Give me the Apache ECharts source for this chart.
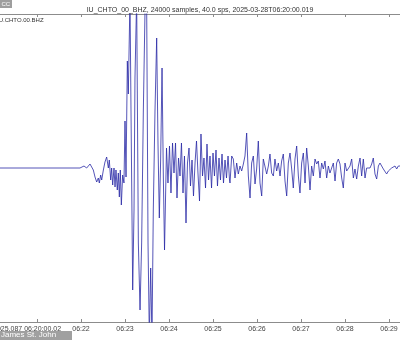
<!DOCTYPE html>
<html>
<head>
<meta charset="utf-8">
<script src="https://cdn.jsdelivr.net/npm/echarts@6/dist/echarts.min.js"></script>
<style>html,body{margin:0;padding:0;background:#fff}#c{width:400px;height:340px}</style>
</head>
<body>
<div id="c"></div>
<script>
// Seconds after 2025-03-28 06:20:00
const times = [
0, 118.6, 124.1, 127.7, 132.3, 134.5, 136.8, 139.1, 141.4, 143.6,
145.0, 146.8, 148.2, 150.5, 152.7, 155.0, 157.3, 158.6, 160.5, 161.8,
163.2, 165.0, 166.4, 167.7, 169.5, 170.9, 172.3, 173.6, 175.0, 176.8,
178.6, 180.0, 181.4, 183.2, 184.5, 186.8, 188.2, 190.5, 192.3, 193.6,
195.9, 198.2, 200.5, 202.7, 205.0, 207.7, 209.5, 211.4, 213.2, 215.0,
216.8, 218.6, 220.9, 223.2, 225.0, 226.8, 228.6, 230.5, 232.3,
233.9, 236.6, 238.6, 240.7, 242.7, 244.8, 246.8, 248.9, 250.9, 253.0,
255.0, 257.0, 259.1, 261.1, 263.2, 265.2, 267.3, 269.3, 271.4, 273.4,
275.5, 277.5, 279.5, 281.6, 283.6, 285.7, 287.7, 289.8, 291.8, 293.9,
295.9, 298.0, 300.0, 302.0, 304.1, 306.1, 308.2, 310.2, 312.3, 314.3,
316.4, 318.4, 320.5, 322.5,
323.2, 325.5, 327.7, 330.0, 332.3, 334.5, 336.8, 339.1, 341.4, 343.6,
345.9, 348.2, 350.5, 352.7, 355.0, 357.3, 359.5, 361.8, 364.1, 366.4,
368.6, 370.9, 373.2, 375.5, 377.7, 380.0, 382.3, 384.5, 386.8, 389.1,
391.4, 393.6, 395.9, 398.2, 400.5, 402.7, 405.0, 407.3, 409.5, 411.8,
414.1, 416.4, 418.6, 420.9, 423.2, 425.5, 427.7, 430.0, 432.3, 434.5,
436.8, 439.1, 441.4, 443.6, 445.9, 448.2, 450.5, 452.7, 455.0, 457.3,
459.5, 461.8, 464.1, 466.4, 468.6, 470.9, 473.2, 475.5, 477.7, 480.0,
482.3, 484.5, 486.8, 489.1, 491.4, 493.6, 495.9, 498.2, 500.5, 502.7,
505.0, 507.3, 509.5, 511.8, 514.1, 516.4, 518.6, 520.9, 523.2, 525.5,
527.7, 530.0, 532.3, 534.5, 536.8, 539.1, 541.4, 543.6, 545.9, 548.2,
550.5, 552.7, 555.0, 565.0, 580.0, 600.0
];
// Ground velocity (arbitrary counts, thousands)
const counts = [
0, 0, 2, 0, 4, 5, -2, -9, -14, -10,
-15, -7, -12, -2, 6, 11, 0, 8, -12, 0,
-17, 0, -19, -2, -22, -5, -29, -2, -37, -7,
-15, 47, -9, 107, 74, 170, 57, -122, -42, 90,
170, -75, -142, -75, 57, 175, 170, -75, -170, -100,
-170, -42, 57, 130, 24, -50, 8, 100, -9,
-82, 20, -15, 22, -25, 25, -5, 25, -30, 10,
-8, 25, -25, 12, -55, 5, 20, -18, 8, -28,
5, 27, -5, -33, 34, -8, 10, -20, 24, -12,
12, -20, 15, -8, 18, -18, 10, -12, 14, -15,
8, -10, 12, -12,
-15, 12, 9, -10, 5, -6, 2, -3, 4, 12,
35, -8, -30, 5, 12, -16, -1, 27, -15, -28,
9, 10, -6, 2, 14, -5, -8, 9, -3, 5,
-8, 7, 14, -13, -28, 5, 15, -1, -20, 9,
22, -8, -25, 5, 15, -15, 20, 2, -22, 2,
-8, 9, 4, 7, -10, 5, -1, 7, -10, 2,
-5, 0, 5, -13, 5, 9, 4, -10, -20, 5,
-3, -3, 2, 9, -10, -1, -11, 2, 10, -8,
9, -10, 0, -1, 0, 4, 10, -6, -11, 2,
5, 2, -1, -3, -6, -3, -3, 0, -1, 2,
-1, 2, 0, 2, -1, 0
];
const tickLabels = ['2025.087 06:20:00.02', '', '06:22', '06:23', '06:24', '06:25', '06:26', '06:27', '06:28', '06:29', ''];
const titleText = 'IU_CHTO_00_BHZ, 24000 samples, 40.0 sps, 2025-03-28T06:20:00.019';
const traceLabel = 'IU.CHTO.00.BHZ';

if (times.length !== counts.length) throw new Error('length mismatch ' + times.length + ' ' + counts.length);
const data = times.map((t, i) => [t, counts[i]]);

const chart = echarts.init(document.getElementById('c'), null, {renderer: 'canvas'});
const axisCol = '#8c8c8c';
const font = 'Liberation Sans, Arial, sans-serif';
chart.setOption({
  animation: false,
  title: {
    text: titleText, left: 'center', top: 2,
    textStyle: {fontSize: 7, fontWeight: 'normal', color: '#333', fontFamily: font}
  },
  grid: {left: -7, right: -33, top: 14, bottom: 18, outerBoundsMode: 'none', containLabel: false},
  xAxis: [{
    type: 'value', min: 0, max: 600, interval: 60, position: 'bottom',
    axisLine: {onZero: false, lineStyle: {color: axisCol, width: 1}},
    axisTick: {inside: true, length: 3, lineStyle: {color: axisCol}},
    splitLine: {show: false},
    axisLabel: {
      formatter: (v) => tickLabels[Math.round(v / 60)] || '',
      fontSize: 7, fontFamily: font, color: '#444', margin: 4,
      showMinLabel: true, showMaxLabel: false, alignMinLabel: 'left', hideOverlap: false
    }
  }, {
    type: 'value', min: 0, max: 600, interval: 60, position: 'top',
    axisLine: {onZero: false, lineStyle: {color: axisCol, width: 1}},
    axisTick: {inside: true, length: 3, lineStyle: {color: axisCol}},
    splitLine: {show: false},
    axisLabel: {show: false}
  }],
  yAxis: {type: 'value', min: -154, max: 154, show: false, splitLine: {show: false}},
  series: [{
    type: 'line', data: data, xAxisIndex: 0, symbol: 'none', showSymbol: false,
    clip: true, lineStyle: {color: '#2a2aa6', width: 0.8}
  }],
  graphic: [
    {type: 'text', left: -3, top: 17, style: {text: traceLabel, fontSize: 6, fontFamily: font, fill: '#333'}},
    {type: 'rect', left: 0, top: 0, shape: {width: 12, height: 8}, style: {fill: '#9e9e9e'}},
    {type: 'text', left: 1.5, top: 1, style: {text: 'CC', fontSize: 6, fontFamily: font, fill: '#fff'}},
    {type: 'rect', left: 0, top: 331, shape: {width: 72, height: 9}, style: {fill: '#a0a0a0'}},
    {type: 'text', left: 1, top: 331, style: {text: 'James St. John', fontSize: 8, fontFamily: font, fill: '#fff'}}
  ]
});
</script>
</body>
</html>
